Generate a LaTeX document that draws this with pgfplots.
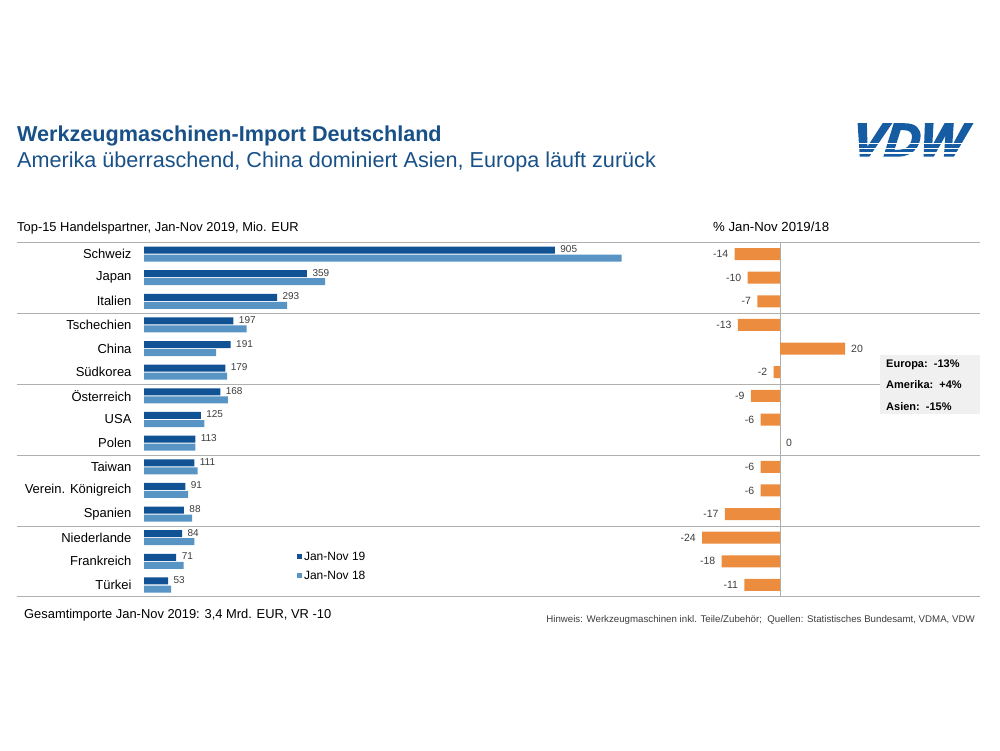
\documentclass[border=0pt]{standalone}
\usepackage{pgfplots}
\pgfplotsset{compat=1.18}
\usepackage{pgfplotstable}
\usepackage{fontspec}
\setmainfont{Liberation Sans}
\newfontfamily\logofont{Liberation Sans}[BoldItalicFeatures={FakeBold=4, FakeSlant=0.1}]
\definecolor{darkbar}{RGB}{16,82,148}
\definecolor{lightbar}{RGB}{88,148,196}
\definecolor{orangebar}{RGB}{235,140,62}
\definecolor{titleblue}{RGB}{24,80,136}
\definecolor{logoblue}{RGB}{22,92,162}
\definecolor{sepgray}{RGB}{175,175,175}
\definecolor{labgray}{RGB}{60,60,60}

\pgfplotstableread{
idx cur prev pct
0 905 1052 -14
1 359 399 -10
2 293 315 -7
3 197 226 -13
4 191 159 20
5 179 183 -2
6 168 185 -9
7 125 133 -6
8 113 113 0
9 111 118 -6
10 91 97 -6
11 88 106 -17
12 84 111 -24
13 71 87 -18
14 53 60 -11
}\datatable

\begin{document}
\begin{tikzpicture}
\useasboundingbox (0pt,0pt) rectangle (1000pt,750pt);

% titles
\node[anchor=base west, inner sep=0, text=titleblue, font=\fontsize{21.6}{24}\selectfont\bfseries] at (17pt,608pt) {Werkzeugmaschinen-Import Deutschland};
\node[anchor=base west, inner sep=0, text=titleblue, font=\fontsize{21.6}{24}\selectfont] at (17pt,582pt) {Amerika überraschend, China dominiert Asien, Europa läuft zurück};

% logo
\node[anchor=south west, inner sep=0, text=logoblue, font=\fontsize{46}{46}\logofont\bfseries\itshape, xscale=1.06] at (851pt,594pt) {VDW};
\foreach \yy in {606.5,601.5,597} {\draw[white, line width=1.6pt] (845pt,\yy pt) -- (985pt,\yy pt);}

% sub headers
\node[anchor=base west, inner sep=0, font=\fontsize{12.9}{15}\selectfont] at (17pt,518.5pt) {Top-15 Handelspartner, Jan-Nov 2019, Mio. EUR};
\node[anchor=base west, inner sep=0, font=\fontsize{13.2}{15}\selectfont] at (713pt,518.5pt) {\% Jan-Nov 2019/18};

% separators
\foreach \yy in {507.8,436.9,366.0,295.1,224.1,153.2} {\draw[sepgray, line width=0.8pt] (17pt,\yy pt) -- (980pt,\yy pt);}

\begin{axis}[
  at={(144pt,153.2pt)}, anchor=south west,
  scale only axis, width=499.4pt, height=354.6pt,
  xmin=0, xmax=1100, ymin=-0.5, ymax=14.5, y dir=reverse,
  xbar, bar width=7pt, clip=false,
  axis line style={draw=none},
  xtick=\empty, ytick={0,...,14},
  yticklabels={Schweiz,Japan,Italien,Tschechien,China,Südkorea,Österreich,USA,Polen,Taiwan,Verein. Königreich,Spanien,Niederlande,Frankreich,Türkei},
  major tick length=0pt,
  yticklabel style={font=\fontsize{13}{15}\selectfont, anchor=east, xshift=-9pt},
  /pgf/number format/assume math mode=true,
  legend style={at={(0.306,0.133)}, anchor=north west, draw=none, fill=none,
    font=\fontsize{12}{14}\selectfont, row sep=5pt, inner sep=0pt, cells={anchor=west}},
  legend image code/.code={\fill[#1,/tikz/.cd,draw=none] (0pt,-2.5pt) rectangle (5pt,2.5pt);},
]
\addplot[fill=darkbar, draw=none, bar shift=0pt, point meta=x, nodes near coords,
  nodes near coords style={font=\fontsize{10}{12}\selectfont, text=labgray, anchor=west, xshift=2pt, yshift=1pt}]
  table[x=cur, y expr=\coordindex-0.17]{\datatable};
\addlegendentry{Jan-Nov 19}
\addplot[fill=lightbar, draw=none, bar shift=0pt]
  table[x=prev, y expr=\coordindex+0.17]{\datatable};
\addlegendentry{Jan-Nov 18}
\end{axis}

\begin{axis}[
  at={(682.5pt,153.2pt)}, anchor=south west,
  scale only axis, width=195pt, height=354.6pt,
  xmin=-30, xmax=30, ymin=-0.5, ymax=14.5, y dir=reverse,
  hide axis, clip=false, xbar, bar width=12pt,
  /pgf/number format/assume math mode=true,
]
\draw[sepgray, line width=0.8pt] (axis cs:0,-0.5) -- (axis cs:0,14.5);
\addplot[fill=orangebar, draw=none, bar shift=0pt, point meta=x, nodes near coords,
  nodes near coords style={font=\fontsize{10.5}{12}\selectfont, text=labgray, inner xsep=6pt}]
  table[x=pct, y expr=\coordindex]{\datatable};
\end{axis}

% region box
\fill[gray!12] (880pt,336pt) rectangle (980pt,395pt);
\node[anchor=base west, inner sep=0, font=\fontsize{11}{13}\selectfont\bfseries] at (886pt,382pt) {Europa:\ \ -13\%};
\node[anchor=base west, inner sep=0, font=\fontsize{11}{13}\selectfont\bfseries] at (886pt,361pt) {Amerika:\ \ +4\%};
\node[anchor=base west, inner sep=0, font=\fontsize{11}{13}\selectfont\bfseries] at (886pt,339pt) {Asien:\ \ -15\%};

% footer
\node[anchor=base west, inner sep=0, font=\fontsize{12.9}{15}\selectfont] at (24pt,132pt) {Gesamtimporte Jan-Nov 2019: 3,4 Mrd. EUR, VR -10};
\node[anchor=base east, inner sep=0, font=\fontsize{9.7}{11}\selectfont, text=labgray] at (975pt,127.5pt) {Hinweis: Werkzeugmaschinen inkl. Teile/Zubehör;\ \ Quellen: Statistisches Bundesamt, VDMA, VDW};
\end{tikzpicture}
\end{document}
